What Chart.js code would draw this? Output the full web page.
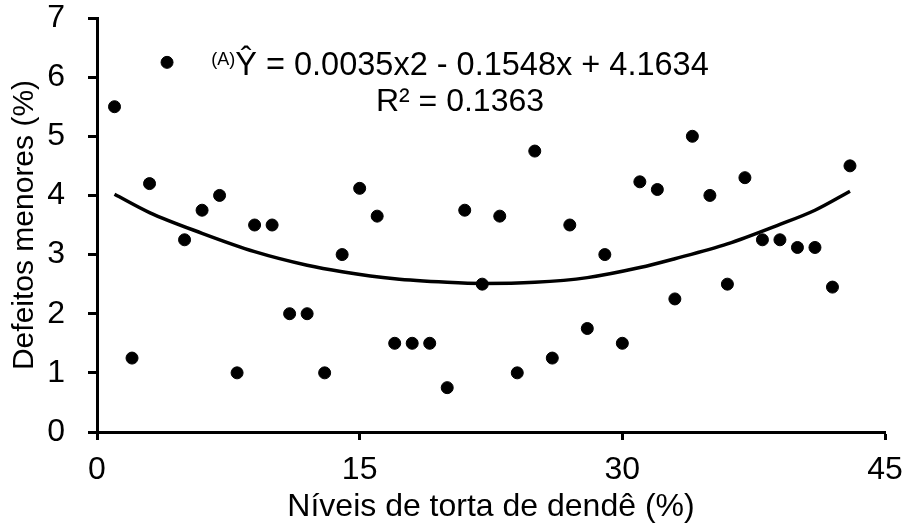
<!DOCTYPE html>
<html>
<head>
<meta charset="utf-8">
<script src="https://cdn.jsdelivr.net/npm/chart.js@4"></script>
<style>
html,body{margin:0;padding:0;background:#fff;}
#wrap{width:907px;height:531px;}
</style>
</head>
<body>
<div id="wrap"><canvas id="c" width="907" height="531"></canvas></div>
<script>
// Data
const levels = [1,2,3,4,5,6,7,8,9,10,11,12,13,14,15,16,17,18,19,20,21,22,23,24,25,26,27,28,29,30,31,32,33,34,35,36,37,38,39,40,41,42,43];
const defects = [5.5,1.25,4.2,6.25,3.25,3.75,4.0,1.0,3.5,3.5,2.0,2.0,1.0,3.0,4.12,3.65,1.5,1.5,1.5,0.75,3.75,2.5,3.65,1.0,4.75,1.25,3.5,1.75,3.0,1.5,4.23,4.1,2.25,5.0,4.0,2.5,4.3,3.25,3.25,3.12,3.12,2.45,4.5];
const trendX = [1,3,6,9,12,14,17,20,22,25,28,31,33,36,39,41,43];
const trendY = [4.02,3.71,3.36,3.05,2.82,2.71,2.59,2.53,2.51,2.53,2.61,2.78,2.93,3.18,3.51,3.75,4.07];
const xTicks = [0,15,30,45];
const yTicks = [0,1,2,3,4,5,6,7];
const xTitle = 'Níveis de torta de dendê (%)';
const yTitle = 'Defeitos menores (%)';
const eqPrefix = '(A)';
const eqMain = 'Ŷ = 0.0035x2 - 0.1548x + 4.1634';
const eqR2 = 'R² = 0.1363';

const FONT = "'Liberation Sans', Arial, sans-serif";

const eqPlugin = {
  id: 'eq',
  afterDraw(chart) {
    const ctx = chart.ctx;
    ctx.save();
    ctx.fillStyle = '#000';
    ctx.textBaseline = 'alphabetic';
    ctx.font = '18px ' + FONT;
    const wA = ctx.measureText(eqPrefix).width;
    ctx.font = '32.5px ' + FONT;
    const wM = ctx.measureText(eqMain).width;
    const cx = 460;
    const start = cx - (wA + wM) / 2;
    ctx.font = '18px ' + FONT;
    ctx.textAlign = 'left';
    ctx.fillText(eqPrefix, start, 65);
    ctx.font = '32.5px ' + FONT;
    ctx.fillText(eqMain, start + wA, 75);
    ctx.font = '32px ' + FONT;
    ctx.textAlign = 'center';
    ctx.fillText(eqR2, cx, 111);
    ctx.restore();
  }
};

new Chart(document.getElementById('c'), {
  type: 'scatter',
  data: {
    datasets: [
      {
        data: trendX.map((x, i) => ({x: x, y: trendY[i]})),
        showLine: true,
        borderColor: '#000',
        borderWidth: 3.5,
        pointRadius: 0,
        cubicInterpolationMode: 'monotone',
        fill: false,
        order: 2
      },
      {
        data: levels.map((x, i) => ({x: x, y: defects[i]})),
        backgroundColor: '#000',
        borderColor: '#000',
        borderWidth: 1,
        pointRadius: 6,
        showLine: false,
        order: 1
      }
    ]
  },
  options: {
    responsive: false,
    animation: false,
    layout: {padding: {top: 18, right: 22, bottom: 0, left: 0}},
    plugins: {legend: {display: false}, tooltip: {enabled: false}},
    scales: {
      x: {
        type: 'linear',
        min: 0, max: 45,
        afterBuildTicks(scale) { scale.ticks = xTicks.map(v => ({value: v})); },
        afterFit(scale) { scale.height = 99; scale.paddingLeft = 0; scale.paddingRight = 0; },
        ticks: {color: '#000', padding: 11, font: {family: FONT, size: 32}},
        grid: {drawOnChartArea: false, drawTicks: true, tickLength: 8, tickColor: '#000', tickWidth: 3},
        border: {display: true, color: '#000', width: 3},
        title: {display: true, text: xTitle, color: '#000', font: {family: FONT, size: 32}, padding: {top: 0, bottom: 5}}
      },
      y: {
        type: 'linear',
        min: 0, max: 7,
        afterBuildTicks(scale) { scale.ticks = yTicks.map(v => ({value: v})); },
        afterFit(scale) { scale.width = 97; scale.paddingTop = 0; scale.paddingBottom = 0; },
        ticks: {color: '#000', padding: 23, font: {family: FONT, size: 32, lineHeight: 1.1}},
        grid: {drawOnChartArea: false, drawTicks: true, tickLength: 9, tickColor: '#000', tickWidth: 3},
        border: {display: true, color: '#000', width: 3},
        title: {display: true, text: yTitle, color: '#000', font: {family: FONT, size: 30}, padding: {top: 7, bottom: 0}}
      }
    }
  },
  plugins: [eqPlugin]
});
</script>
</body>
</html>
